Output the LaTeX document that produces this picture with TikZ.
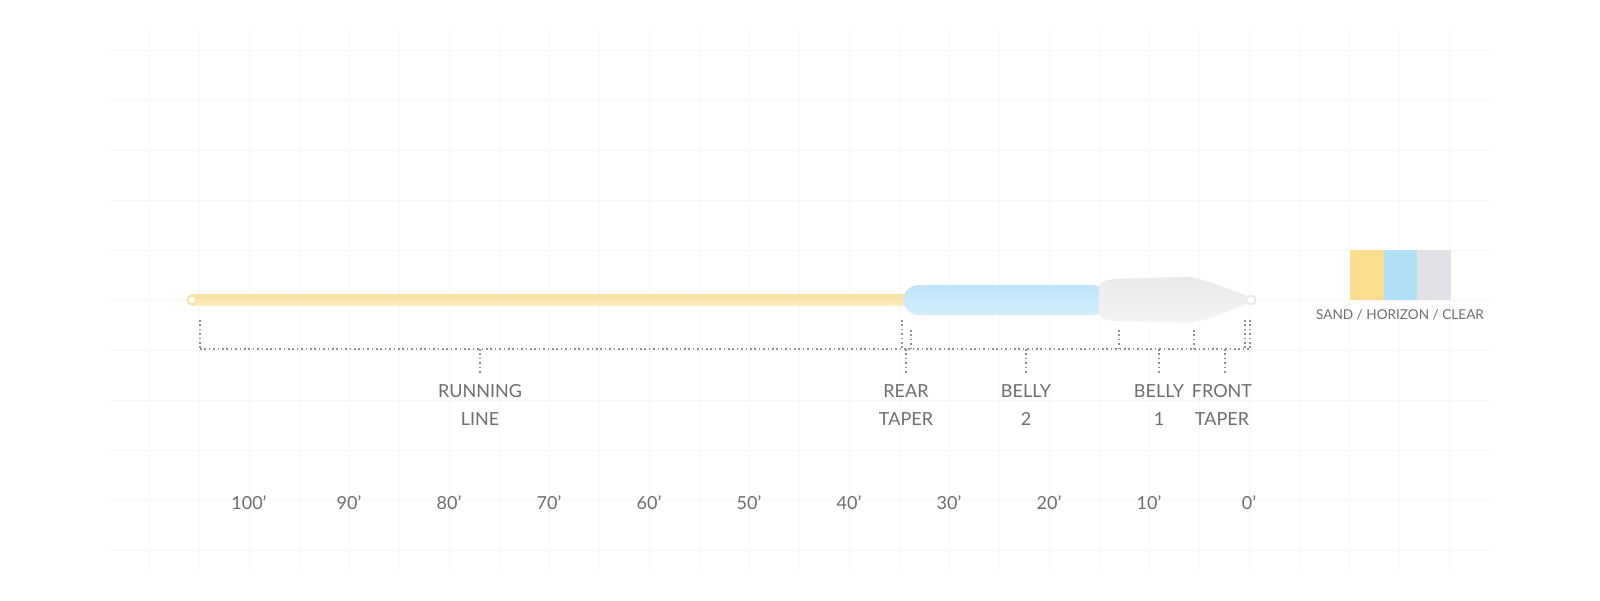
\documentclass[tikz,border=0pt]{standalone}
\usepackage{fontspec}
\setmainfont{Lato}
\definecolor{txt}{HTML}{6E6E6E}
\definecolor{dotc}{HTML}{8E8E8E}
\definecolor{gridc}{HTML}{F7F7F7}
\definecolor{sandA}{HTML}{FBE2A2}
\definecolor{sandB}{HTML}{FDEDC4}
\definecolor{horA}{HTML}{BEE4F8}
\definecolor{horB}{HTML}{D4EEFB}
\definecolor{clrA}{HTML}{E9E9EB}
\definecolor{clrB}{HTML}{F4F4F5}
\definecolor{legSand}{HTML}{FADD8E}
\definecolor{legHor}{HTML}{B0E0F6}
\definecolor{legClr}{HTML}{E2E2E6}
\begin{document}
\begin{tikzpicture}[x=0.5pt,y=-0.5pt,
  gridline/.style={draw=gridc,line width=0.5pt},
  dots/.style={draw=dotc,line width=0.8pt,dash pattern=on 0.8pt off 1.4pt},
  lbl/.style={text=txt,font=\fontsize{9}{14}\selectfont,align=center,inner sep=0pt,anchor=north},
  num/.style={text=txt,font=\fontsize{9}{11}\selectfont,inner sep=0pt},
  legtxt/.style={text=txt,font=\fontsize{6.8}{8}\selectfont,inner sep=0pt,anchor=north}]
\useasboundingbox (0,0) rectangle (1600,600);
\fill[white] (0,0) rectangle (1600,600);
% faint grid
\foreach \gx in {149,199,...,1449} \draw[gridline] (\gx,30) -- (\gx,570);
\foreach \gy in {50,100,...,550} \draw[gridline] (110,\gy) -- (1490,\gy);
% running line
\shade[top color=sandA,bottom color=sandB] (192,294.5) rectangle (908,305.5);
\draw[draw=sandA,fill=white,line width=1pt] (192,300) circle[radius=4.5];
% belly 2 (horizon)
\shade[top color=horA,bottom color=horB,rounded corners=8] (903,285) rectangle (1108,315);
% belly 1 + front taper (clear)
\shade[top color=clrA,bottom color=clrB]
  (1099,287) .. controls (1101,281) and (1108,279) .. (1122,278.5)
  -- (1190,277) .. controls (1212,281) and (1232,291) .. (1246,295)
  -- (1246,305) .. controls (1232,309) and (1212,319) .. (1190,323)
  -- (1122,321.5) .. controls (1108,321) and (1101,319) .. (1099,313) -- cycle;
\draw[draw=clrA,fill=white,line width=1pt] (1251,300) circle[radius=4.5];
% bracket
\coordinate (rlTop) at (200,320); \coordinate (rlBot) at (200,349);
\coordinate (rtTop) at (902,320); \coordinate (rtBot) at (902,349);
\coordinate (b2Top) at (911,330); \coordinate (b2Bot) at (911,349);
\coordinate (b1Top) at (1119,330); \coordinate (b1Bot) at (1119,349);
\coordinate (ftTop) at (1194,330); \coordinate (ftBot) at (1194,349);
\coordinate (tpTopA) at (1245,320); \coordinate (tpBotA) at (1245,349);
\coordinate (tpTopB) at (1250,320); \coordinate (tpBotB) at (1250,349);
\draw[dots] (rlBot) -- (tpBotB);
\draw[dots] (rlTop) -- (rlBot);
\draw[dots] (rtTop) -- (rtBot);
\draw[dots] (b2Top) -- (b2Bot);
\draw[dots] (b1Top) -- (b1Bot);
\draw[dots] (ftTop) -- (ftBot);
\draw[dots] (tpTopA) -- (tpBotA);
\draw[dots] (tpTopB) -- (tpBotB);
% labels
\node[lbl] (run) at (480,384) {RUNNING\\LINE};
\node[lbl] (rear) at (906,384) {REAR\\TAPER};
\node[lbl] (bel2) at (1026,384) {BELLY\\2};
\node[lbl] (bel1) at (1159,384) {BELLY\\1};
\node[lbl] (front) at (1222,384) {FRONT\\TAPER};
\coordinate (runT) at (480,349);
\coordinate (rearT) at (906,349);
\coordinate (bel2T) at (1026,349);
\coordinate (bel1T) at (1159,349);
\coordinate (frontT) at (1225,349);
\draw[dots,shorten >=5pt] (runT) -- (run.north);
\draw[dots,shorten >=5pt] (rearT) -- (rear.north);
\draw[dots,shorten >=5pt] (bel2T) -- (bel2.north);
\draw[dots,shorten >=5pt] (bel1T) -- (bel1.north);
\draw[dots,shorten >=5pt] (frontT) -- (front.north -| frontT);
% scale
\foreach \n [count=\i from 0] in {100,90,80,70,60,50,40,30,20,10,0}
  \node[num] (s\n) at ({249+100*\i},503) {\n'};
% legend
\fill[legSand] (1350,250) rectangle (1384,300);
\fill[legHor] (1384,250) rectangle (1417,300);
\fill[legClr] (1417,250) rectangle (1451,300);
\node[legtxt] (leg) at (1400,309) {SAND / HORIZON / CLEAR};
\end{tikzpicture}
\end{document}
